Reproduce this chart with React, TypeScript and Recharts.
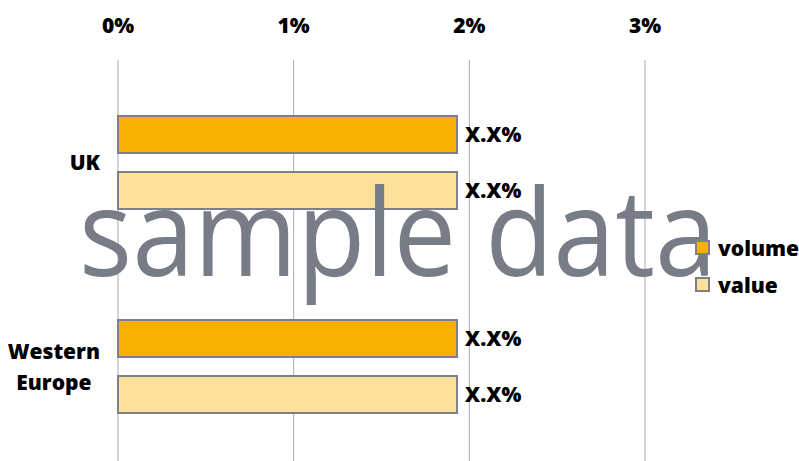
import { BarChart, Bar, XAxis, YAxis, CartesianGrid, Legend, LabelList } from 'recharts';

const categories = ['UK', 'Western Europe'];
const volumeValues = [1.93, 1.93];
const valueValues = [1.93, 1.93];
const volumeLabels = ['X.X%', 'X.X%'];
const valueLabels = ['X.X%', 'X.X%'];
const xTicks = [0, 1, 2, 3];
const legendOrder = ['volume', 'value'];

const FONT = '"Open Sans", "DejaVu Sans", sans-serif';
const WEIGHT = 800;
const BORDER = '#7B808B';

const data = categories.map((name, i) => ({
  name,
  volume: volumeValues[i],
  value: valueValues[i],
  volumeLabel: volumeLabels[i],
  valueLabel: valueLabels[i],
}));

let ctx: CanvasRenderingContext2D | null = null;
function measure(text: string) {
  if (!ctx) ctx = document.createElement('canvas').getContext('2d');
  if (!ctx) return text.length * 11;
  ctx.font = `${WEIGHT} 21px ${FONT}`;
  return ctx.measureText(text).width;
}

function CategoryTick({ x, y, payload }: any) {
  const label: string = payload.value;
  const lines = label.length > 10 ? label.split(' ') : [label];
  const maxW = Math.max(...lines.map(measure));
  const cx = x - maxW / 2;
  const lineH = 31;
  const startY = y - ((lines.length - 1) * lineH) / 2;
  return (
    <g>
      {lines.map((l, i) => (
        <text
          key={l}
          x={cx}
          y={startY + i * lineH}
          textAnchor="middle"
          dominantBaseline="central"
          fontFamily={FONT}
          fontSize={21}
          fontWeight={WEIGHT}
          fill="#000"
        >
          {l}
        </text>
      ))}
    </g>
  );
}

function LegendContent({ payload }: any) {
  const items = [...(payload || [])].sort(
    (a: any, b: any) => legendOrder.indexOf(a.value) - legendOrder.indexOf(b.value)
  );
  return (
    <div style={{ fontFamily: FONT, fontSize: 21, fontWeight: WEIGHT, color: '#000' }}>
      {items.map((p: any) => (
        <div key={p.value} style={{ display: 'flex', alignItems: 'center', height: 37 }}>
          <span
            style={{
              width: 11,
              height: 11,
              background: p.color,
              border: `2px solid ${BORDER}`,
              marginRight: 8,
            }}
          />
          <span>{p.value}</span>
        </div>
      ))}
    </div>
  );
}

export default function App() {
  return (
    <div style={{ position: 'absolute', left: 0, top: 0, width: 799, height: 461, overflow: 'hidden', background: '#fff' }}>
      <BarChart
        width={799}
        height={468}
        data={data}
        layout="vertical"
        margin={{ top: 0, right: 154, left: 0, bottom: 0 }}
        barSize={37}
        barGap={19}
      >
        <CartesianGrid horizontal={false} stroke="#ABABAB" />
        <XAxis
          type="number"
          orientation="top"
          domain={[0, 3]}
          ticks={xTicks}
          tickFormatter={(v) => `${v}%`}
          axisLine={false}
          tickLine={false}
          tickSize={0}
          tickMargin={27}
          height={60}
          tick={{ fill: '#000', fontSize: 21, fontWeight: WEIGHT, fontFamily: FONT }}
        />
        <YAxis
          type="category"
          dataKey="name"
          width={118}
          axisLine={false}
          tickLine={false}
          tickSize={0}
          tickMargin={18}
          tick={<CategoryTick />}
        />
        <Legend
          layout="vertical"
          align="center"
          verticalAlign="middle"
          content={<LegendContent />}
          wrapperStyle={{ left: 695, top: 229, width: 104, zIndex: 2 }}
        />
        <Bar dataKey="volume" name="volume" fill="#F7B100" stroke={BORDER} strokeWidth={2} isAnimationActive={false}>
          <LabelList
            dataKey="volumeLabel"
            position="right"
            offset={8}
            fill="#000"
            fontSize={21}
            fontWeight={WEIGHT}
            fontFamily={FONT}
          />
        </Bar>
        <Bar dataKey="value" name="value" fill="#FCE09C" stroke={BORDER} strokeWidth={2} isAnimationActive={false}>
          <LabelList
            dataKey="valueLabel"
            position="right"
            offset={8}
            fill="#000"
            fontSize={21}
            fontWeight={WEIGHT}
            fontFamily={FONT}
          />
        </Bar>
      </BarChart>
      <svg
        width={799}
        height={461}
        style={{ position: 'absolute', left: 0, top: 0, pointerEvents: 'none', zIndex: 1 }}
      >
        <text
          x={79}
          y={276}
          fontFamily={FONT}
          fontSize={120}
          fill="#777C87"
          textLength={638}
          lengthAdjust="spacingAndGlyphs"
        >
          sample data
        </text>
      </svg>
    </div>
  );
}
